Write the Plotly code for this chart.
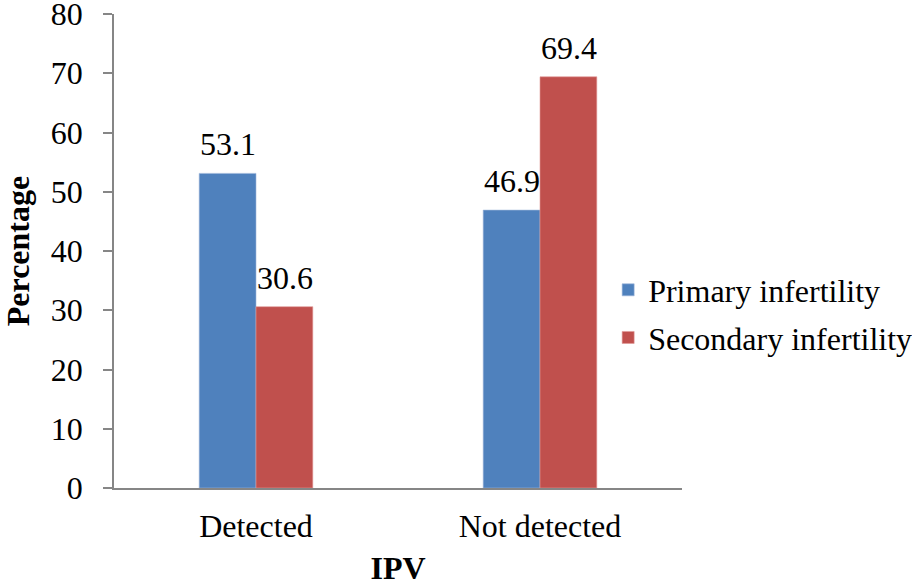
import plotly.graph_objects as go

categories = ["Detected", "Not detected"]
primary = [53.1, 46.9]
secondary = [30.6, 69.4]
series_names = ["Primary infertility", "Secondary infertility"]
y_ticks = [0, 10, 20, 30, 40, 50, 60, 70, 80]

FONT = "'Times New Roman', 'Liberation Serif', serif"
FS = 32
BLUE = "#4F81BD"
RED = "#C0504D"
AXIS = "#868686"

fig = go.Figure()
fig.add_trace(go.Bar(x=categories, y=primary, name=series_names[0],
                     marker=dict(color=BLUE, line=dict(width=0.6, color="#9DB5DA")),
                     legendgroup="a"))
fig.add_trace(go.Bar(x=categories, y=secondary, name=series_names[1],
                     marker=dict(color=RED, line=dict(width=0.6, color="#E09A98")),
                     legendgroup="b"))

annotations = []
for vals, shift in ((primary, -28.5), (secondary, 28.5)):
    for c, v in zip(categories, vals):
        annotations.append(dict(x=c, y=v, xref="x", yref="y", text=f"{v:.1f}",
                                showarrow=False, xshift=shift, yshift=9,
                                yanchor="bottom", xanchor="center",
                                font=dict(family=FONT, size=FS, color="black")))

fig.update_layout(
    width=912, height=586,
    margin=dict(l=114, r=230, t=14, b=98, autoexpand=False),
    paper_bgcolor="white", plot_bgcolor="white",
    barmode="group", bargap=0.6, bargroupgap=0,
    font=dict(family=FONT, size=FS, color="black"),
    showlegend=True,
    legend=dict(x=0.87, xanchor="left", y=0.367, yanchor="middle",
                font=dict(family=FONT, size=FS, color="black"),
                traceorder="grouped", tracegroupgap=3,
                bgcolor="rgba(0,0,0,0)"),
    annotations=annotations,
    xaxis=dict(showline=True, linecolor=AXIS, linewidth=1.5, ticks="",
               showgrid=False, zeroline=False, automargin=False,
               ticklabelstandoff=9,
               tickfont=dict(family=FONT, size=FS, color="black"),
               title=dict(text="<b>IPV</b>", standoff=21,
                          font=dict(family=FONT, size=FS, color="black"))),
    yaxis=dict(range=[0, 80], tickvals=y_ticks, showline=True, linecolor=AXIS,
               linewidth=1.5, ticks="outside", ticklen=9, tickcolor=AXIS,
               tickwidth=1.5, showgrid=False, zeroline=False, automargin=False,
               ticklabelstandoff=14, ticklabeloverflow="allow",
               tickfont=dict(family=FONT, size=FS, color="black"),
               title=dict(text="<b>Percentage</b>", standoff=20,
                          font=dict(family=FONT, size=FS, color="black"))),
)

fig.write_html("out.html", config={"displayModeBar": False},
               post_script="document.body.style.margin='0';")
